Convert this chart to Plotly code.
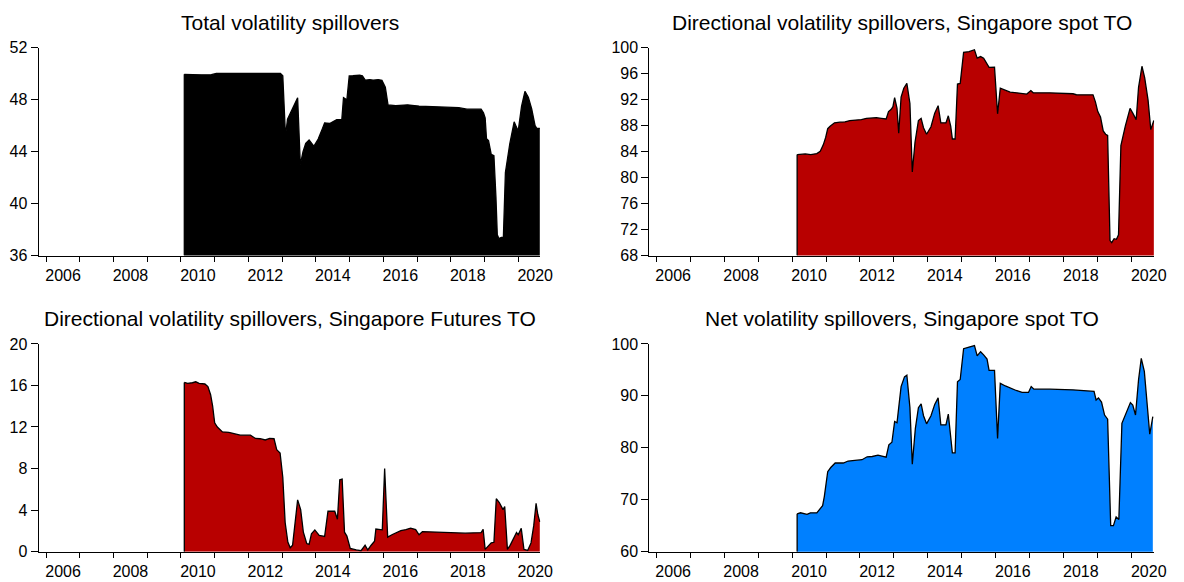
import plotly.graph_objects as go

# ---------------- data (decimal year, value) ----------------
total_spill = [
    (2010.10, 49.96), (2010.30, 49.93), (2010.60, 49.92), (2010.90, 49.93), (2011.05, 50.02),
    (2011.50, 50.03), (2012.00, 50.03), (2012.50, 50.03), (2012.95, 50.03), (2013.02, 49.85),
    (2013.06, 47.0), (2013.10, 45.2), (2013.16, 46.5), (2013.46, 48.16), (2013.54, 43.0),
    (2013.62, 44.0), (2013.70, 44.65), (2013.80, 44.9), (2013.94, 44.42), (2014.07, 44.97),
    (2014.20, 45.8), (2014.26, 46.22), (2014.41, 46.17), (2014.52, 46.35), (2014.62, 46.47),
    (2014.77, 46.47), (2014.82, 48.16), (2014.92, 48.0), (2014.99, 49.83), (2015.10, 49.85),
    (2015.30, 49.9), (2015.38, 49.85), (2015.47, 49.5), (2015.60, 49.55), (2015.70, 49.5),
    (2015.85, 49.55), (2015.96, 49.5), (2016.06, 48.96), (2016.14, 47.6), (2016.37, 47.54),
    (2016.72, 47.61), (2017.06, 47.51), (2017.75, 47.46), (2018.24, 47.39), (2018.48, 47.27),
    (2018.90, 47.27), (2018.97, 47.0), (2019.02, 46.6), (2019.06, 45.0), (2019.12, 44.85),
    (2019.20, 43.8), (2019.28, 43.7), (2019.34, 40.5), (2019.38, 37.6), (2019.43, 37.3),
    (2019.50, 37.4), (2019.56, 37.4), (2019.62, 42.4), (2019.75, 44.6), (2019.88, 46.3),
    (2019.93, 46.0), (2020.00, 45.6), (2020.10, 47.5), (2020.20, 48.65), (2020.30, 48.2),
    (2020.40, 47.3), (2020.50, 46.0), (2020.55, 45.8), (2020.64, 45.8),
]

spot_to = [
    (2010.15, 83.55), (2010.39, 83.65), (2010.55, 83.55), (2010.73, 83.7), (2010.83, 84.05),
    (2010.92, 85.05), (2010.99, 86.2), (2011.05, 87.54), (2011.12, 87.9), (2011.25, 88.44),
    (2011.41, 88.54), (2011.56, 88.6), (2011.70, 88.79), (2012.04, 88.94), (2012.19, 89.14),
    (2012.48, 89.23), (2012.63, 89.14), (2012.77, 89.04), (2012.84, 90.18), (2012.92, 90.53),
    (2012.97, 90.93), (2013.02, 92.32), (2013.09, 90.68), (2013.14, 86.84), (2013.21, 92.42),
    (2013.29, 93.77), (2013.38, 94.52), (2013.47, 91.43), (2013.54, 80.86), (2013.62, 85.45),
    (2013.72, 88.79), (2013.80, 89.14), (2013.87, 87.69), (2013.96, 86.69), (2014.09, 87.84),
    (2014.20, 89.93), (2014.30, 91.08), (2014.38, 88.44), (2014.53, 88.44), (2014.60, 89.53),
    (2014.67, 87.94), (2014.72, 85.95), (2014.80, 85.95), (2014.87, 94.42), (2014.95, 94.52),
    (2015.05, 99.3), (2015.21, 99.4), (2015.37, 99.7), (2015.45, 98.4), (2015.55, 98.65),
    (2015.64, 98.4), (2015.74, 97.51), (2015.80, 97.0), (2015.96, 97.01), (2016.05, 89.83),
    (2016.13, 93.77), (2016.23, 93.52), (2016.42, 93.17), (2016.62, 93.07), (2016.91, 92.87),
    (2017.03, 93.42), (2017.10, 93.07), (2017.59, 93.07), (2018.27, 92.92), (2018.37, 92.77),
    (2018.86, 92.75), (2018.93, 91.68), (2019.00, 90.18), (2019.08, 89.34), (2019.16, 87.19),
    (2019.23, 86.69), (2019.29, 86.5), (2019.36, 70.3), (2019.41, 70.0), (2019.48, 70.6),
    (2019.55, 70.5), (2019.61, 71.2), (2019.68, 84.94), (2019.81, 87.94), (2019.95, 90.68),
    (2020.03, 89.93), (2020.13, 88.94), (2020.20, 93.92), (2020.30, 97.16), (2020.38, 95.41),
    (2020.48, 91.93), (2020.56, 87.4), (2020.60, 88.04), (2020.65, 88.8),
]

futures_to = [
    (2010.10, 16.29), (2010.20, 16.2), (2010.34, 16.26), (2010.44, 16.35), (2010.54, 16.2),
    (2010.71, 16.14), (2010.80, 15.89), (2010.88, 15.11), (2010.94, 14.02), (2011.00, 12.4),
    (2011.08, 11.99), (2011.23, 11.53), (2011.42, 11.49), (2011.62, 11.34), (2011.76, 11.21),
    (2012.06, 11.21), (2012.21, 10.9), (2012.35, 10.87), (2012.50, 10.75), (2012.63, 10.9),
    (2012.76, 10.87), (2012.84, 9.81), (2012.94, 9.5), (2013.02, 7.16), (2013.09, 2.8),
    (2013.17, 0.93), (2013.24, 0.37), (2013.31, 0.62), (2013.39, 3.1), (2013.46, 4.98),
    (2013.55, 4.05), (2013.63, 1.87), (2013.73, 0.78), (2013.80, 0.69), (2013.87, 1.71),
    (2013.97, 2.09), (2014.10, 1.56), (2014.26, 1.46), (2014.36, 3.89), (2014.56, 3.89),
    (2014.64, 3.12), (2014.71, 6.92), (2014.78, 6.98), (2014.85, 1.87), (2014.92, 1.5),
    (2015.02, 0.31), (2015.20, 0.16), (2015.34, 0.09), (2015.46, 0.62), (2015.54, 0.16),
    (2015.64, 0.62), (2015.74, 1.0), (2015.78, 2.18), (2015.97, 2.1), (2016.04, 8.0),
    (2016.13, 1.4), (2016.27, 1.65), (2016.52, 2.02), (2016.67, 2.12), (2016.81, 2.27),
    (2016.96, 2.12), (2017.06, 1.62), (2017.16, 1.93), (2017.45, 1.9), (2017.75, 1.84),
    (2018.43, 1.78), (2018.90, 1.84), (2018.96, 2.15), (2019.02, 0.22), (2019.10, 0.53),
    (2019.20, 0.84), (2019.28, 0.9), (2019.35, 5.1), (2019.44, 4.73), (2019.55, 4.05),
    (2019.60, 4.33), (2019.68, 0.22), (2019.76, 0.6), (2019.95, 1.84), (2020.00, 1.62),
    (2020.09, 2.24), (2020.17, 0.22), (2020.28, 0.12), (2020.38, 0.84), (2020.46, 2.5),
    (2020.53, 4.64), (2020.58, 3.6), (2020.64, 2.87),
]

net_spot_to = [
    (2010.15, 67.29), (2010.25, 67.48), (2010.44, 67.17), (2010.54, 67.48), (2010.73, 67.48),
    (2010.83, 68.23), (2010.90, 68.85), (2010.95, 70.6), (2011.00, 73.1), (2011.05, 75.39),
    (2011.14, 76.2), (2011.27, 77.07), (2011.51, 77.07), (2011.65, 77.45), (2011.85, 77.57),
    (2012.06, 77.7), (2012.21, 78.26), (2012.36, 78.32), (2012.53, 78.57), (2012.68, 78.32),
    (2012.77, 78.2), (2012.85, 80.56), (2012.94, 81.06), (2013.02, 85.05), (2013.09, 84.8),
    (2013.14, 87.73), (2013.21, 91.78), (2013.31, 93.65), (2013.38, 93.96), (2013.47, 87.73),
    (2013.54, 76.82), (2013.63, 83.68), (2013.72, 87.73), (2013.80, 88.47), (2013.87, 86.17),
    (2013.96, 84.61), (2014.09, 86.17), (2014.20, 88.35), (2014.30, 89.6), (2014.38, 84.42),
    (2014.53, 84.42), (2014.60, 86.48), (2014.67, 82.43), (2014.72, 79.0), (2014.80, 79.0),
    (2014.87, 92.71), (2014.95, 93.15), (2015.05, 99.07), (2015.21, 99.38), (2015.37, 99.69),
    (2015.45, 97.69), (2015.55, 98.5), (2015.64, 97.88), (2015.74, 97.07), (2015.80, 94.89),
    (2015.96, 94.89), (2016.05, 81.81), (2016.13, 92.4), (2016.28, 91.9), (2016.42, 91.46),
    (2016.60, 91.03), (2016.77, 90.66), (2016.96, 90.66), (2017.04, 91.78), (2017.12, 91.28),
    (2017.59, 91.28), (2018.27, 91.15), (2018.89, 90.84), (2018.95, 89.2), (2019.02, 89.6),
    (2019.11, 88.8), (2019.20, 86.3), (2019.29, 85.5), (2019.38, 65.0), (2019.46, 65.0),
    (2019.54, 66.7), (2019.62, 66.2), (2019.71, 84.7), (2019.87, 87.4), (2019.96, 88.7),
    (2020.03, 88.2), (2020.11, 86.3), (2020.20, 93.1), (2020.28, 97.2), (2020.37, 94.7),
    (2020.45, 89.1), (2020.53, 82.6), (2020.62, 86.0),
]

titles = [
    "Total volatility spillovers",
    "Directional volatility spillovers, Singapore spot TO",
    "Directional volatility spillovers, Singapore Futures TO",
    "Net volatility spillovers, Singapore spot TO",
]
year_ticks = list(range(2006, 2021))
year_labels = [str(y) if y % 2 == 0 else "" for y in year_ticks]

y_ranges = [(36, 52), (68, 100), (0, 20), (60, 100)]
y_dticks = [4, 4, 4, 10]
fill_colors = ["#000000", "#B80000", "#B80000", "#0080FF"]
series = [total_spill, spot_to, futures_to, net_spot_to]

# ---------------- layout geometry ----------------
W, H = 1184, 582
FONT = "Liberation Sans, Arial, sans-serif"
px_x = [(39, 546), (656, 1166), (39, 546), (656, 1166)]
px_y = [(41, 255), (41, 255), (346, 560), (346, 560)]
x_ranges = [(2005.78, 2020.66), (2005.80, 2020.66), (2005.78, 2020.66), (2005.80, 2020.66)]
title_y = [15, 15, 320, 320]

fig = go.Figure()
layout = dict(
    width=W, height=H,
    margin=dict(l=0, r=0, t=0, b=0),
    paper_bgcolor="white", plot_bgcolor="white",
    showlegend=False,
    font=dict(family=FONT, color="black", size=16),
    annotations=[],
)

for i in range(4):
    xs = [p[0] for p in series[i]]
    ys = [p[1] for p in series[i]]
    xa = "x" if i == 0 else f"x{i+1}"
    ya = "y" if i == 0 else f"y{i+1}"
    fig.add_trace(go.Scatter(
        x=xs, y=ys, xaxis=xa, yaxis=ya, mode="lines",
        line=dict(color="black", width=1.3),
        fill="tozeroy", fillcolor=fill_colors[i],
        hoverinfo="skip",
    ))
    # left edge of the filled area
    fig.add_trace(go.Scatter(
        x=[xs[0], xs[0]], y=[y_ranges[i][0], ys[0]], xaxis=xa, yaxis=ya,
        mode="lines", line=dict(color="black", width=1.3), hoverinfo="skip",
    ))
    xkey = "xaxis" if i == 0 else f"xaxis{i+1}"
    ykey = "yaxis" if i == 0 else f"yaxis{i+1}"
    x0, x1 = px_x[i]
    yt, yb = px_y[i]
    layout[xkey] = dict(
        domain=[x0 / W, x1 / W], anchor=ya, range=list(x_ranges[i]),
        tickmode="array", tickvals=year_ticks, ticktext=year_labels,
        ticks="outside", ticklen=5, tickwidth=1, tickcolor="black",
        ticklabelshift=17,
        showline=True, linecolor="black", linewidth=1,
        showgrid=False, zeroline=False,
        tickfont=dict(family=FONT, size=16, color="black"),
    )
    lo, hi = y_ranges[i]
    layout[ykey] = dict(
        domain=[1 - yb / H, 1 - yt / H], anchor=xa, range=[lo, hi],
        tickmode="linear", tick0=lo, dtick=y_dticks[i],
        ticks="outside", ticklen=7, tickwidth=1, tickcolor="black",
        showline=True, linecolor="black", linewidth=1,
        showgrid=False, zeroline=False,
        tickfont=dict(family=FONT, size=16, color="black"),
    )
    layout["annotations"].append(dict(
        text=titles[i], xref="paper", yref="paper",
        x=(x0 + x1) / 2 / W, y=1 - title_y[i] / H,
        xanchor="center", yanchor="middle", showarrow=False,
        font=dict(family=FONT, size=21, color="black"),
    ))

fig.update_layout(**layout)
fig.write_html(
    "out.html",
    config={"displayModeBar": False},
    post_script="document.body.style.margin='0';document.body.style.overflow='hidden';",
)
